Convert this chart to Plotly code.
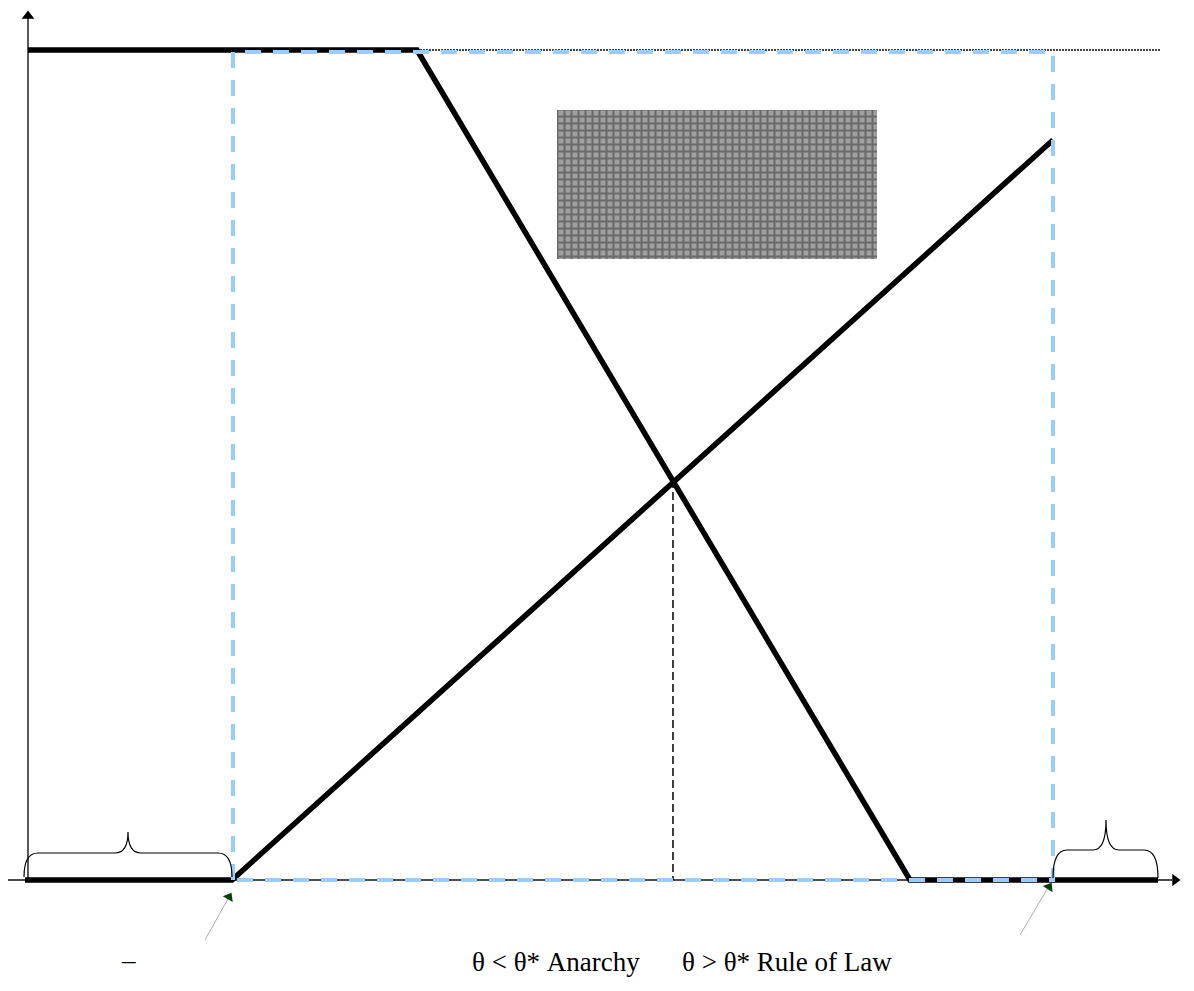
import plotly.graph_objects as go

# ---- data (x: horizontal position of theta, y: payoff level above the theta axis) ----
curve_a_x = [28, 417, 910, 1158]      # high plateau, falling section, zero plateau
curve_a_y = [830, 830, 0, 0]
curve_b_x = [25, 232, 1053]           # zero plateau, rising section
curve_b_y = [0, 0, 740]
bound_x = [233, 233, 1053, 1053, 233]  # light-blue dashed bounds
bound_y = [0, 828, 828, 0, 0]
ceiling_x = [417, 1160]
ceiling_y = [830, 830]
cross_x = [673, 673]
cross_y = [400, 0]
label_left = "θ < θ* Anarchy"
label_right = "θ > θ* Rule of Law"
label_bar = "–"

fig = go.Figure()

# axes
fig.add_trace(go.Scatter(x=[28, 28], y=[0, 862], mode="lines",
                         line=dict(color="black", width=1.3), hoverinfo="skip"))
fig.add_trace(go.Scatter(x=[7, 1172], y=[0, 0], mode="lines",
                         line=dict(color="#4d4d4d", width=2), hoverinfo="skip"))
fig.add_trace(go.Scatter(x=[28], y=[864], mode="markers",
                         marker=dict(symbol="triangle-up", size=11, color="black"), hoverinfo="skip"))
fig.add_trace(go.Scatter(x=[1175], y=[0], mode="markers",
                         marker=dict(symbol="triangle-right", size=11, color="black"), hoverinfo="skip"))

# patterned box
fig.add_trace(go.Bar(x=[717], y=[149], base=[621], width=[320],
                     marker=dict(color="#a0a0a0", line=dict(width=0),
                                 pattern=dict(shape="+", fgcolor="#333333", size=7, solidity=0.5)),
                     hoverinfo="skip"))

# ceiling dotted
fig.add_trace(go.Scatter(x=ceiling_x, y=ceiling_y, mode="lines",
                         line=dict(color="#444444", width=2, dash="2px,1px"), hoverinfo="skip"))
# vertical dashed at crossing
fig.add_trace(go.Scatter(x=cross_x, y=cross_y, mode="lines",
                         line=dict(color="black", width=1.5, dash="8px,4px"), hoverinfo="skip"))
# thick curves
fig.add_trace(go.Scatter(x=curve_a_x, y=curve_a_y, mode="lines",
                         line=dict(color="black", width=5.5), hoverinfo="skip"))
fig.add_trace(go.Scatter(x=curve_b_x, y=curve_b_y, mode="lines",
                         line=dict(color="black", width=5.5), hoverinfo="skip"))
# blue dashed bounds
fig.add_trace(go.Scatter(x=bound_x, y=bound_y, mode="lines",
                         line=dict(color="#99ccff", width=4, dash="16px,12px"), hoverinfo="skip"))

# braces
def brace(x0, x1, xm, yb, ys, yt):
    r = 14
    return (f"M {x0},{yb} Q {x0},{ys} {x0+r},{ys} L {xm-13},{ys} "
            f"Q {xm},{ys} {xm},{yt} Q {xm},{ys} {xm+13},{ys} L {x1-r},{ys} "
            f"Q {x1},{ys} {x1},{yb}")

fig.add_shape(type="path", path=brace(24, 232, 128, 3, 27, 48),
              xref="x", yref="y", line=dict(color="black", width=1.2))
fig.add_shape(type="path", path=brace(1053, 1158, 1106, 2, 30, 60),
              xref="x", yref="y", line=dict(color="black", width=1.2))

# small arrows
fig.add_trace(go.Scatter(x=[205, 229], y=[-60, -17], mode="lines",
                         line=dict(color="#a5b5a5", width=1), hoverinfo="skip"))
fig.add_trace(go.Scatter(x=[1020, 1049], y=[-55, -6], mode="lines",
                         line=dict(color="#a5b5a5", width=1), hoverinfo="skip"))
fig.add_trace(go.Scatter(x=[229], y=[-17], mode="markers",
                         marker=dict(symbol="triangle-up", size=10, angle=30, color="#0b3d0b"),
                         hoverinfo="skip"))
fig.add_trace(go.Scatter(x=[1049], y=[-7], mode="markers",
                         marker=dict(symbol="triangle-up", size=10, angle=32, color="#0b3d0b"),
                         hoverinfo="skip"))

font = dict(family="Liberation Serif", size=27, color="black")
fig.add_annotation(x=470, y=-82, text=label_left, showarrow=False, xanchor="left",
                   yanchor="middle", font=font)
fig.add_annotation(x=680, y=-82, text=label_right, showarrow=False, xanchor="left",
                   yanchor="middle", font=font)
fig.add_annotation(x=128, y=-80, text=label_bar, showarrow=False, xanchor="center",
                   yanchor="middle", font=font)

fig.update_layout(width=1178, height=975, margin=dict(l=0, r=0, t=0, b=0),
                  plot_bgcolor="white", paper_bgcolor="white", showlegend=False,
                  xaxis=dict(range=[8, 1186], visible=False, fixedrange=True),
                  yaxis=dict(range=[-103, 872], visible=False, fixedrange=True))

fig.write_html("out.html")
